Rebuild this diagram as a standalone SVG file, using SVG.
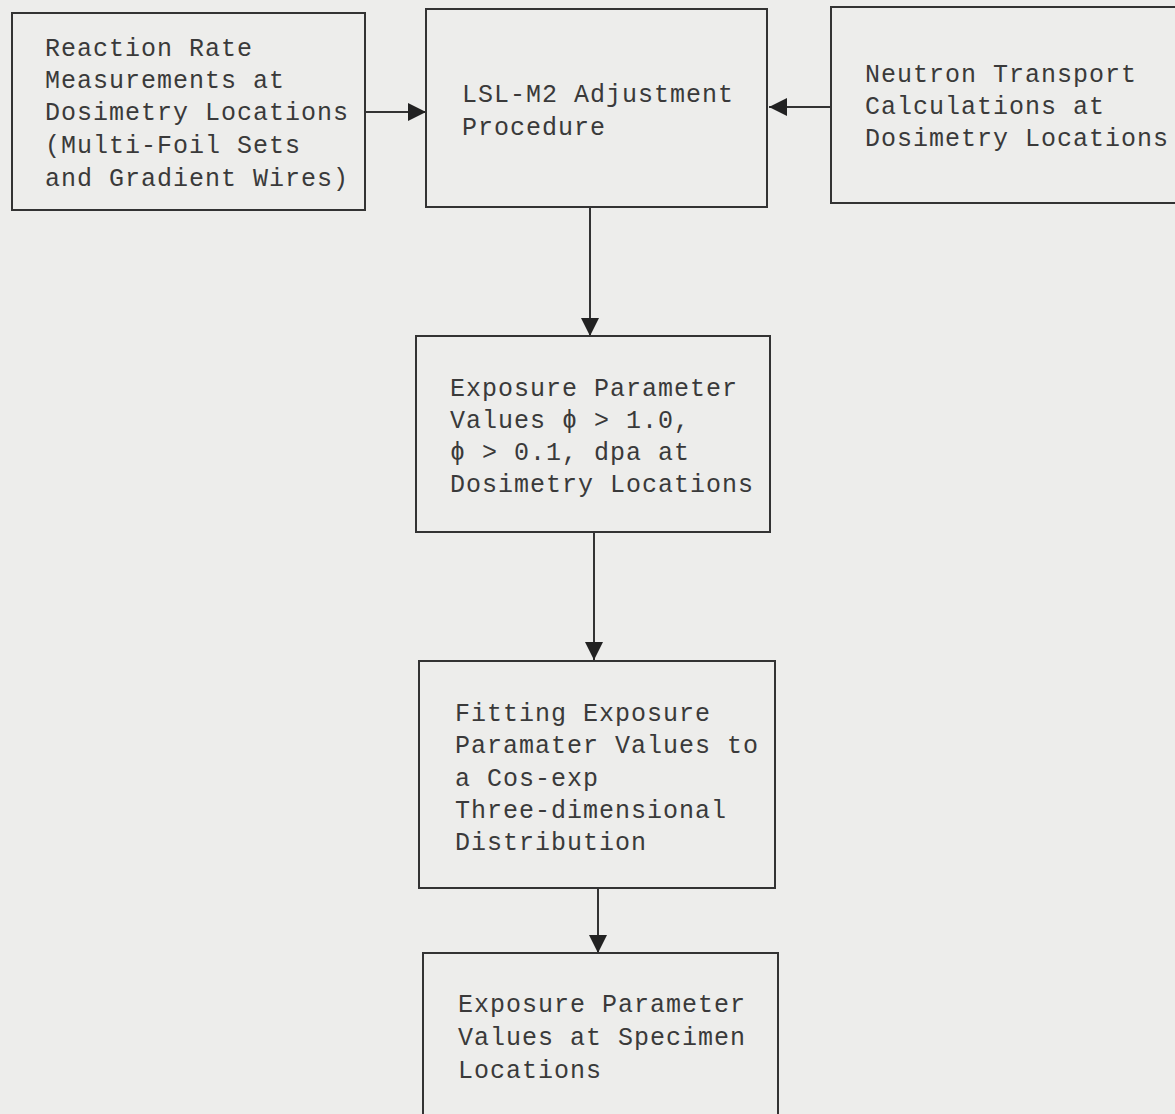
<svg xmlns="http://www.w3.org/2000/svg" width="1175" height="1114" viewBox="0 0 1175 1114">
<style>
.box{fill:none;stroke:#333;stroke-width:2}
.t{font-family:"Liberation Mono","DejaVu Sans Mono",monospace;font-size:25px;letter-spacing:1px;fill:#3a3a3a}
.c{stroke:#333;stroke-width:2;fill:none}
</style>
<defs>
<marker id="ah" viewBox="0 0 10 10" refX="10" refY="5" markerWidth="22" markerHeight="18" markerUnits="userSpaceOnUse" orient="auto">
<path d="M0,0 L10,5 L0,10 z" fill="#222"/>
</marker>
</defs>
<rect width="1175" height="1114" fill="#ededeb"/>
<g id="connectors">
<line class="c" x1="365" y1="112" x2="426" y2="112" marker-end="url(#ah)"/>
<line class="c" x1="831" y1="107" x2="769" y2="107" marker-end="url(#ah)"/>
<line class="c" x1="590" y1="207" x2="590" y2="336" marker-end="url(#ah)"/>
<line class="c" x1="594" y1="532" x2="594" y2="660" marker-end="url(#ah)"/>
<line class="c" x1="598" y1="888" x2="598" y2="953" marker-end="url(#ah)"/>
</g>
<g id="node1">
<rect class="box" x="12" y="13" width="353" height="197"/>
<text class="t" x="45" y="56">Reaction Rate</text>
<text class="t" x="45" y="88">Measurements at</text>
<text class="t" x="45" y="120">Dosimetry Locations</text>
<text class="t" x="45" y="153">(Multi-Foil Sets</text>
<text class="t" x="45" y="186">and Gradient Wires)</text>
</g>
<g id="node2">
<rect class="box" x="426" y="9" width="341" height="198"/>
<text class="t" x="462" y="102">LSL-M2 Adjustment</text>
<text class="t" x="462" y="135">Procedure</text>
</g>
<g id="node3">
<rect class="box" x="831" y="7" width="360" height="196"/>
<text class="t" x="865" y="82">Neutron Transport</text>
<text class="t" x="865" y="114">Calculations at</text>
<text class="t" x="865" y="146">Dosimetry Locations</text>
</g>
<g id="node4">
<rect class="box" x="416" y="336" width="354" height="196"/>
<text class="t" x="450" y="396">Exposure Parameter</text>
<text class="t" x="450" y="428">Values ϕ &gt; 1.0,</text>
<text class="t" x="450" y="460">ϕ &gt; 0.1, dpa at</text>
<text class="t" x="450" y="492">Dosimetry Locations</text>
</g>
<g id="node5">
<rect class="box" x="419" y="661" width="356" height="227"/>
<text class="t" x="455" y="721">Fitting Exposure</text>
<text class="t" x="455" y="753">Paramater Values to</text>
<text class="t" x="455" y="786">a Cos-exp</text>
<text class="t" x="455" y="818">Three-dimensional</text>
<text class="t" x="455" y="850">Distribution</text>
</g>
<g id="node6">
<rect class="box" x="423" y="953" width="355" height="180"/>
<text class="t" x="458" y="1012">Exposure Parameter</text>
<text class="t" x="458" y="1045">Values at Specimen</text>
<text class="t" x="458" y="1078">Locations</text>
</g>
</svg>
